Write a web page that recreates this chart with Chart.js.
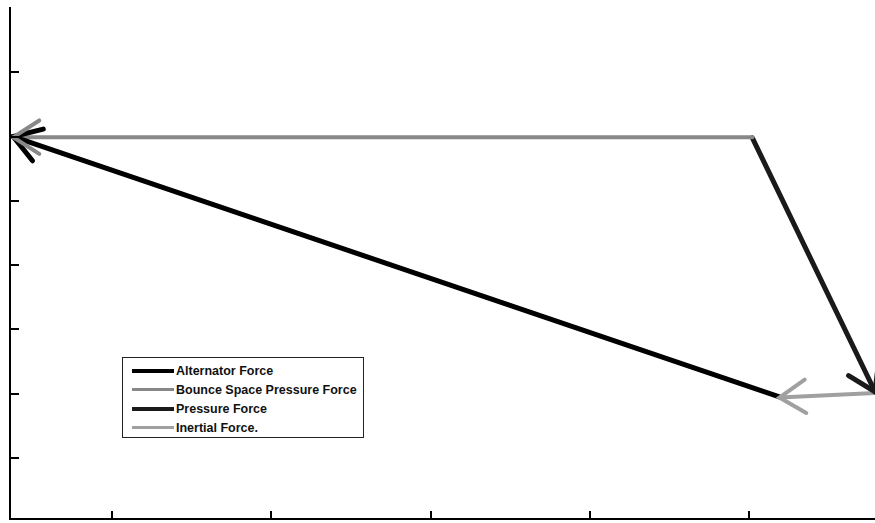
<!DOCTYPE html>
<html>
<head>
<meta charset="utf-8">
<script src="https://cdn.jsdelivr.net/npm/chart.js@4"></script>
<style>
  body { margin: 0; background: #fff; }
  #wrap { position: relative; width: 875px; height: 523px; }
  #legend {
    position: absolute; left: 122px; top: 357px; width: 240px; height: 79px;
    border: 1.5px solid #222; background: #fff;
    font-family: "Liberation Sans", Arial, sans-serif; font-size: 12.5px; font-weight: bold;
    color: #111;
  }
  .row { position: absolute; left: 9px; height: 19px; display: flex; align-items: center; }
  .swatch { width: 42px; margin-right: 2px; }
</style>
</head>
<body>
<div id="wrap">
  <canvas id="myChart"></canvas>
  <div id="legend"></div>
</div>
<script>
// series (force vectors), each one runs from its first point to its arrow tip
const seriesNames = ['Alternator Force', 'Bounce Space Pressure Force', 'Pressure Force', 'Inertial Force.'];
const alternatorX = [5.19, 0.38];
const alternatorY = [1.95, 6.0];
const bounceX = [5.02, 0.38];
const bounceY = [5.99, 5.99];
const pressureX = [5.02, 5.79];
const pressureY = [5.98, 2.03];
const inertialX = [5.79, 5.19];
const inertialY = [2.01, 1.94];

const xTicks = [1, 2, 3, 4, 5];
const yTicks = [1, 2, 3, 4, 5, 6, 7];

const colors = ['#000000', '#888888', '#1a1a1a', '#a0a0a0'];
const widths = [5, 4, 5, 4];

function pts(xs, ys) {
  return xs.map(function(x, i) { return {x: x, y: ys[i]}; });
}

const seriesData = [
  pts(alternatorX, alternatorY),
  pts(bounceX, bounceY),
  pts(pressureX, pressureY),
  pts(inertialX, inertialY)
];

// arrow heads at the last point of every line
const arrowHeads = {
  id: 'arrowHeads',
  afterDatasetsDraw(chart) {
    const ctx = chart.ctx;
    ctx.save();
    chart.data.datasets.forEach(function(ds, i) {
      const meta = chart.getDatasetMeta(i);
      const a = meta.data[0], b = meta.data[1];
      const ang = Math.atan2(a.y - b.y, a.x - b.x);
      const len = 31, spread = 0.57;
      ctx.strokeStyle = ds.borderColor;
      ctx.lineWidth = ds.borderWidth;
      ctx.lineCap = 'round';
      ctx.beginPath();
      ctx.moveTo(b.x + len * Math.cos(ang + spread), b.y + len * Math.sin(ang + spread));
      ctx.lineTo(b.x, b.y);
      ctx.lineTo(b.x + len * Math.cos(ang - spread), b.y + len * Math.sin(ang - spread));
      ctx.stroke();
    });
    ctx.restore();
  }
};

// tick marks pointing into the plot
const innerTicks = {
  id: 'innerTicks',
  afterDraw(chart) {
    const ctx = chart.ctx, area = chart.chartArea;
    ctx.save();
    ctx.strokeStyle = '#000';
    ctx.lineWidth = 2;
    ctx.beginPath();
    chart.scales.x.ticks.forEach(function(t) {
      const px = Math.round(chart.scales.x.getPixelForValue(t.value));
      ctx.moveTo(px, area.bottom);
      ctx.lineTo(px, area.bottom - 8);
    });
    chart.scales.y.ticks.forEach(function(t) {
      const py = Math.round(chart.scales.y.getPixelForValue(t.value));
      ctx.moveTo(area.left, py);
      ctx.lineTo(area.left + 9, py);
    });
    ctx.stroke();
    ctx.restore();
  }
};

const config = {
  type: 'scatter',
  data: {
    datasets: seriesData.map(function(d, i) {
      return {
        label: seriesNames[i],
        data: d,
        showLine: true,
        borderColor: colors[i],
        backgroundColor: colors[i],
        borderWidth: widths[i],
        pointRadius: 0,
        borderCapStyle: 'round'
      };
    })
  },
  options: {
    responsive: true,
    maintainAspectRatio: false,
    animation: false,
    layout: { padding: { left: 10, top: 8, right: 0, bottom: 4 } },
    plugins: { legend: { display: false }, tooltip: { enabled: false } },
    scales: {
      x: {
        type: 'linear', min: 0.36, max: 5.79,
        afterBuildTicks: function(s) { s.ticks = xTicks.map(function(v) { return {value: v}; }); },
        ticks: { display: false },
        grid: { display: false, drawTicks: false },
        border: { display: true, color: '#000', width: 2 }
      },
      y: {
        type: 'linear', min: 0.05, max: 8,
        afterBuildTicks: function(s) { s.ticks = yTicks.map(function(v) { return {value: v}; }); },
        ticks: { display: false },
        grid: { display: false, drawTicks: false },
        border: { display: true, color: '#000', width: 2 }
      }
    }
  },
  plugins: [arrowHeads, innerTicks]
};

const myChart = new Chart(document.getElementById('myChart'), config);

// legend box inside the plot
const legendEl = document.getElementById('legend');
seriesNames.forEach(function(name, i) {
  const row = document.createElement('div');
  row.className = 'row';
  row.style.top = (3 + i * 19) + 'px';
  const sw = document.createElement('div');
  sw.className = 'swatch';
  sw.style.height = (widths[i] - 1) + 'px';
  sw.style.background = colors[i];
  row.appendChild(sw);
  row.appendChild(document.createTextNode(name));
  legendEl.appendChild(row);
});
</script>
</body>
</html>
